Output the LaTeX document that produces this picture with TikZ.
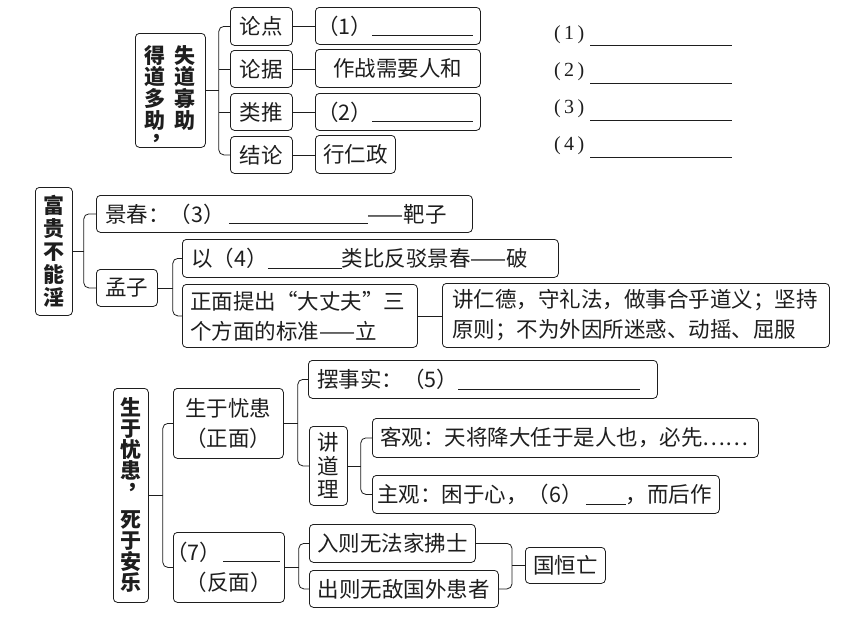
\documentclass[tikz,border=0pt]{standalone}
\usepackage{fontspec}
\newfontfamily\cjk{Noto Sans CJK SC}
\newfontfamily\serifans{Liberation Serif}
\newcommand\blank[1]{\rule[-2pt]{#1pt}{0.8pt}}
\newcommand\vcomma{\makebox[1em][l]{\hspace{0.3em}，}}
\definecolor{ink}{HTML}{1E1E1E}
\begin{document}
\begin{tikzpicture}[x=1pt,y=-1pt,
 bx/.style={draw=ink, line width=0.8pt, rounded corners=4pt, anchor=north west, inner sep=0pt,
   font=\cjk\fontsize{21.5}{30}\selectfont, text=ink, align=center},
 lb/.style={bx, align=left},
 tt/.style={bx, font=\cjk\bfseries\fontsize{21}{23}\selectfont},
 txt/.style={inner sep=0pt, text=ink, font=\cjk\fontsize{21.5}{30}\selectfont},
 ans/.style={inner sep=0pt, text=ink, anchor=base west, font=\serifans\fontsize{20}{20}\selectfont},
 con/.style={draw=ink, line width=0.8pt},
 rc/.style={con, rounded corners=5pt}]
\fill[white] (0,0) rectangle (863,621);
\useasboundingbox (0,0) rectangle (863,621);

% ---------- section 1 ----------
\node[bx,minimum width=70,minimum height=114] (A) at (135,33) {};
\node[txt,anchor=north,align=center,font=\cjk\bfseries\fontsize{21}{21.7}\selectfont] (A1) at (155,45) {得\\道\\多\\助\\[-10pt]\vcomma};
\node[txt,anchor=north,align=center,font=\cjk\bfseries\fontsize{21}{21.7}\selectfont] (A2) at (185,45) {失\\道\\寡\\助};

\node[bx,minimum width=62,minimum height=38] (ld) at (230,7) {论点};
\node[bx,minimum width=62,minimum height=37] (lj) at (230,50) {论据};
\node[bx,minimum width=62,minimum height=37] (lt) at (230,93) {类推};
\node[bx,minimum width=62,minimum height=37] (jl) at (230,136) {结论};

\node[lb,minimum height=37,text width=161,inner xsep=2] (a1) at (315,7) {（1）\blank{101}};
\node[bx,minimum width=165,minimum height=38] (a2) at (315,49) {作战需要人和};
\node[lb,minimum height=37,text width=161,inner xsep=2] (a3) at (315,93) {（2）\blank{101}};
\node[bx,minimum width=80,minimum height=38] (a4) at (315,135) {行仁政};

\coordinate (k1) at ([xshift=13]A.east);
\draw[con] (A.east) -- (k1);
\draw[rc] (ld.west) -| (k1) |- (jl.west);
\draw[con] (lj.west) -- (lj.west -| k1);
\draw[con] (lt.west) -- (lt.west -| k1);
\draw[con] (ld.east) -- (ld.east -| a1.west);
\draw[con] (lj.east) -- (lj.east -| a2.west);
\draw[con] (lt.east) -- (lt.east -| a3.west);
\draw[con] (jl.east) -- (jl.east -| a4.west);

% answer lines
\node[ans] (q1) at (554,39) {(\,1\,)};
\node[ans] (q2) at (554,76) {(\,2\,)};
\node[ans] (q3) at (554,113) {(\,3\,)};
\node[ans] (q4) at (554,150) {(\,4\,)};
\draw[con,line width=0.7pt] (590,45) -- (732,45);
\draw[con,line width=0.7pt] (590,83) -- (732,83);
\draw[con,line width=0.7pt] (590,120) -- (732,120);
\draw[con,line width=0.7pt] (590,157) -- (732,157);

% ---------- section 2 ----------
\node[tt,minimum width=37,minimum height=128] (B) at (35,187) {富\\贵\\不\\能\\淫};
\node[lb,minimum height=37,text width=358,inner xsep=9] (jc) at (96,195) {景春：（3）\hspace{4pt}\blank{139}——靶子};
\node[bx,minimum width=61,minimum height=37] (mz) at (96,269) {孟子};
\node[lb,minimum height=38,text width=358,inner xsep=9] (y4) at (182,239) {以（4）\blank{74}类比反驳景春——破};
\node[lb,minimum height=63,text width=219,inner xsep=8] (zm) at (182,284) {正面提出“大丈夫”三\\个方面的标准——立};
\node[lb,minimum height=64,text width=367,inner xsep=10] (jr) at (442,283) {讲仁德，守礼法，做事合乎道义；坚持\\原则；不为外因所迷惑、动摇、屈服};

\coordinate (k2) at ([xshift=11]B.east);
\draw[con] (B.east) -- (k2);
\draw[rc] (jc.west) -| (k2) |- (mz.west);
\coordinate (k3) at ([xshift=15]mz.east);
\draw[con] (mz.east) -- (k3);
\draw[rc] (y4.west) -| (k3) |- (zm.west);
\draw[con] (zm.east) -- (zm.east -| jr.west);

% ---------- section 3 ----------
\node[tt,minimum width=35,minimum height=214,font=\cjk\bfseries\fontsize{21}{21}\selectfont] (C) at (113,388) {生\\于\\忧\\患\\[-11pt]\vcomma\\[18pt]死\\于\\安\\乐};
\node[bx,minimum width=110,minimum height=70] (sy) at (173,388) {生于忧患\\（正面）};
\node[lb,minimum height=38,text width=331,inner xsep=9] (bs) at (308,360) {摆事实：（5）\blank{182}};
\node[bx,minimum width=38,minimum height=79,font=\cjk\fontsize{21.5}{23.5}\selectfont] (jd) at (309,426) {讲\\道\\理};
\node[lb,minimum height=39,text width=370,inner xsep=8] (kg) at (372,418) {客观：天将降大任于是人也，必先……};
\node[lb,minimum height=38,text width=337,inner xsep=5] (zg) at (372,475) {主观：困于心，（6）\hspace{3pt}\blank{40}，而后作};
\node[bx,minimum width=111,minimum height=70] (q7) at (173,532) {};
\node[txt,anchor=west] (q7a) at (166,552) {（7）\hspace{2pt}\blank{57}};
\node[txt] (q7b) at (228.5,582) {（反面）};
\node[bx,minimum width=166,minimum height=38] (rz) at (309,524) {入则无法家拂士};
\node[bx,minimum width=189,minimum height=37] (cz) at (309,570) {出则无敌国外患者};
\node[bx,minimum width=80,minimum height=36] (gh) at (525,547) {国恒亡};

\coordinate (k4) at ([xshift=14]C.east);
\draw[con] (C.east) -- (k4);
\draw[rc] (sy.west) -| (k4) |- (q7.west);
\coordinate (k5) at ([xshift=14]sy.east);
\draw[con] (sy.east) -- (k5);
\draw[rc] (bs.west) -| (k5) |- (jd.west);
\coordinate (k6) at ([xshift=13]jd.east);
\draw[con] (jd.east) -- (k6);
\draw[rc] (kg.west) -| (k6) |- (zg.west);
\coordinate (k7) at ([xshift=14]q7.east);
\draw[con] (q7.east) -- (k7);
\draw[rc] (rz.west) -| (k7) |- (cz.west);
\coordinate (k8) at ([xshift=-13]gh.west);
\draw[con] (gh.west) -- (k8);
\draw[rc] (rz.east) -| (k8) |- (cz.east);
\end{tikzpicture}
\end{document}
